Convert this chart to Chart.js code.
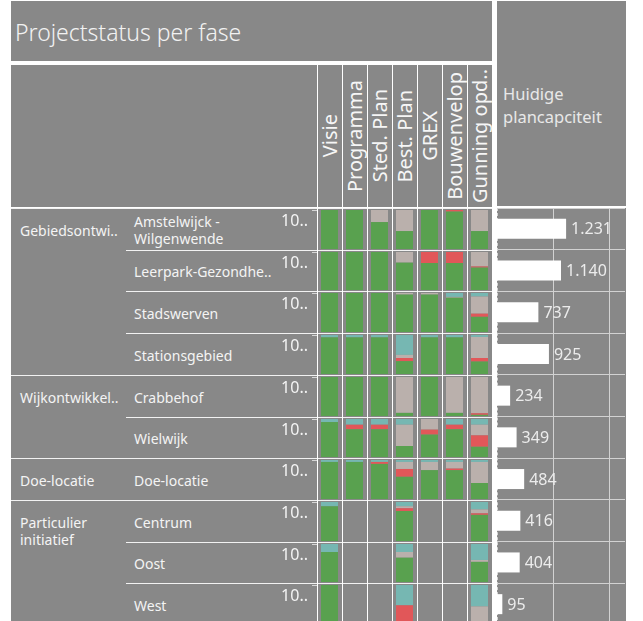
<!DOCTYPE html>
<html>
<head>
<meta charset="utf-8">
<script src="https://cdn.jsdelivr.net/npm/chart.js@4/dist/chart.umd.min.js"></script>
<style>
  body { margin: 0; width: 643px; height: 621px; overflow: hidden; background: #fff; position: relative;
         font-family: "Noto Sans", sans-serif; color: #f4f4f4; }
  .abs { position: absolute; }
  .panel { position: absolute; background: #888888; }
  .phase { position: absolute; top: 65px; width: 25px; height: 142px; display: flex; align-items: center; justify-content: center; }
  .phase span { writing-mode: vertical-rl; transform: rotate(180deg); font-size: 20px; white-space: nowrap; line-height: 25px; color: #f6f6f6; }
  .lbl { position: absolute; font-size: 14px; line-height: 17px; white-space: pre; }
  canvas { position: absolute; }
</style>
</head>
<body>
<div class="panel" style="left:11px;top:1px;width:481px;height:60px;"></div>
<div class="abs" style="left:15px;top:0px;height:60px;line-height:64px;font-size:23px;font-weight:300;color:#f2f2f2;">Projectstatus per fase</div>
<div class="panel" style="left:11px;top:65px;width:481px;height:560px;"></div>
<div class="panel" style="left:497px;top:1px;width:129px;height:205px;"></div>
<div class="abs" style="left:503px;top:82px;font-size:16.5px;line-height:23px;color:#e8e8e8;">Huidige<br>plancapciteit</div>
<div class="panel" style="left:497px;top:208px;width:129px;height:417px;"></div>
<div class="abs" style="left:497px;top:208px;width:0;height:417px;border-left:1px dashed #d8d8d8;"></div>

<script>
// --- Data ---
const phases = ["Visie", "Programma", "Sted. Plan", "Best. Plan", "GREX", "Bouwenvelop", "Gunning opd.."];
const groupNames = ["Gebiedsontwi..", "Wijkontwikkel..", "Doe-locatie", "Particulier\ninitiatief"];
const groupSizes = [4, 2, 1, 3];
const projects = ["Amstelwijck -\nWilgenwende", "Leerpark-Gezondhe..", "Stadswerven", "Stationsgebied",
  "Crabbehof", "Wielwijk", "Doe-locatie", "Centrum", "Oost", "West"];

// share (%) per project (rows) and phase (columns); null = no bar
const pctGreen = [
  [100, 100, 69, 46, 100, 96, 46],
  [100, 100, 100, 72, 71, 71, 59],
  [100, 100, 100, 96, 96, 88, 39],
  [94, 94, 94, 33, 94, 94, 32],
  [100, 100, 100, 8, 100, 8, 3],
  [92, 73, 73, 29, 59, 73, 27],
  [95, 95, 90, 57, 74, 74, 41],
  [89, null, null, 77, null, null, 67],
  [79, null, null, 64, null, null, 53],
  [100, null, null, 0, null, null, 0],
];
const pctRed = [
  [0, 0, 0, 0, 0, 4, 0],
  [0, 0, 0, 0, 29, 29, 3],
  [0, 0, 0, 0, 0, 0, 8],
  [0, 0, 0, 8, 0, 0, 9],
  [0, 0, 0, 0, 0, 0, 4],
  [0, 12, 12, 0, 13, 12, 30],
  [0, 0, 5, 20, 0, 4, 0],
  [0, null, null, 7, null, null, 4],
  [0, null, null, 0, null, null, 0],
  [0, null, null, 48, null, null, 0],
];
const pctBeige = [
  [0, 0, 31, 54, 0, 0, 54],
  [0, 0, 0, 28, 0, 0, 38],
  [0, 0, 0, 4, 4, 2, 44],
  [0, 0, 0, 8, 0, 0, 54],
  [0, 0, 0, 92, 0, 92, 93],
  [0, 0, 0, 56, 28, 0, 28],
  [0, 0, 0, 18, 21, 17, 54],
  [0, null, null, 5, null, null, 10],
  [0, null, null, 15, null, null, 5],
  [0, null, null, 0, null, null, 45],
];
const pctTeal = [
  [0, 0, 0, 0, 0, 0, 0],
  [0, 0, 0, 0, 0, 0, 0],
  [0, 0, 0, 0, 0, 10, 9],
  [6, 6, 6, 51, 6, 6, 5],
  [0, 0, 0, 0, 0, 0, 0],
  [8, 15, 15, 15, 0, 15, 15],
  [5, 5, 5, 5, 5, 5, 5],
  [11, null, null, 11, null, null, 19],
  [21, null, null, 21, null, null, 42],
  [0, null, null, 52, null, null, 55],
];
const capacity = [1231, 1140, 737, 925, 234, 349, 484, 416, 404, 95];
const capacityGrid = [1000, 2000];

// --- Styling ---
const FONT = '"Noto Sans", sans-serif';
Chart.defaults.font.family = FONT;
const statusSeries = [
  { data: pctGreen, color: "#59a14f" },
  { data: pctRed, color: "#e15759" },
  { data: pctBeige, color: "#bab0ac" },
  { data: pctTeal, color: "#76b7b2" },
];
const rowTop = (i) => Math.round(208 + 41.7 * i);

const addDiv = (css, text) => {
  const d = document.createElement("div");
  d.style.cssText = css;
  if (text !== undefined) d.textContent = text;
  document.body.appendChild(d);
  return d;
};

// --- Grid lines of the table ---
addDiv("position:absolute;left:11px;top:207px;width:481px;height:1px;background:#fff");
let groupStarts = [];
groupSizes.reduce((start, n) => { groupStarts.push(start); return start + n; }, 0);
projects.forEach((_, i) => {
  const x = groupStarts.includes(i) ? 11 : 126;
  addDiv(`position:absolute;left:${x}px;top:${rowTop(i)}px;width:${492 - x}px;height:1px;background:#f2f2f2`);
});
phases.forEach((_, k) => {
  addDiv(`position:absolute;left:${317 + 25 * k}px;top:65px;width:1px;height:560px;background:#fff`);
});

// --- Column headers ---
phases.forEach((p, k) => {
  const d = addDiv(`left:${317 + 25 * k}px`);
  d.className = "phase";
  const s = document.createElement("span");
  s.textContent = p;
  d.appendChild(s);
});

// --- Row labels ---
groupNames.forEach((g, j) => {
  const r = groupStarts[j];
  const h = rowTop(r + 1) - rowTop(r);
  addDiv(`left:20px;top:${rowTop(r) + (h - 17) / 2 + 1}px`, g).className = "lbl";
});
projects.forEach((p, r) => {
  const lines = p.split("\n").length;
  const h = rowTop(r + 1) - rowTop(r);
  addDiv(`left:134px;top:${rowTop(r) + (h - 17 * lines) / 2 + 1}px`, p).className = "lbl";
});

// --- Status matrix: one small stacked chart per project ---
projects.forEach((_, r) => {
  const top = rowTop(r);
  const h = rowTop(r + 1) - top;
  const canvas = document.createElement("canvas");
  canvas.width = 222;
  canvas.height = h;
  canvas.style.left = "270px";
  canvas.style.top = top + "px";
  document.body.appendChild(canvas);

  new Chart(canvas, {
    type: "bar",
    data: {
      labels: phases,
      datasets: statusSeries.map((s) => ({
        data: s.data[r],
        backgroundColor: s.color,
        borderWidth: 0,
        barPercentage: 0.68,
        categoryPercentage: 1,
      })),
    },
    options: {
      responsive: false,
      animation: false,
      events: [],
      layout: { padding: { top: 2, bottom: 1, left: 0, right: 0 } },
      plugins: { legend: { display: false }, tooltip: { enabled: false } },
      scales: {
        x: { stacked: true, display: false },
        y: {
          stacked: true,
          min: 0,
          max: 100,
          afterBuildTicks: (scale) => { scale.ticks = [{ value: 100 }]; },
          afterFit: (scale) => { scale.width = 47; scale.paddingTop = 0; scale.paddingBottom = 0; },
          ticks: { callback: () => "10..", color: "#f4f4f4", font: { size: 16 }, padding: 4, labelOffset: 11 },
          grid: { drawOnChartArea: false, tickLength: 5, color: "#d6d6d6" },
          border: { display: false },
        },
      },
    },
  });
});

// --- Huidige plancapaciteit bars ---
const fmtNL = (v) => String(v).replace(/\B(?=(\d{3})+(?!\d))/g, ".");
const valueLabels = {
  id: "valueLabels",
  afterDatasetsDraw(chart) {
    const ctx = chart.ctx;
    const meta = chart.getDatasetMeta(0);
    ctx.save();
    ctx.font = "16px " + FONT;
    ctx.fillStyle = "#ececec";
    ctx.textBaseline = "middle";
    meta.data.forEach((bar, i) => ctx.fillText(fmtNL(capacity[i]), bar.x + 5, bar.y + 1));
    ctx.restore();
  },
};

const capCanvas = document.createElement("canvas");
capCanvas.width = 129;
capCanvas.height = rowTop(10) - rowTop(0);
capCanvas.style.left = "497px";
capCanvas.style.top = rowTop(0) + "px";
document.body.appendChild(capCanvas);

new Chart(capCanvas, {
  type: "bar",
  data: {
    labels: projects,
    datasets: [{ data: capacity, backgroundColor: "#ffffff", borderWidth: 0, barPercentage: 0.48, categoryPercentage: 1 }],
  },
  options: {
    indexAxis: "y",
    responsive: false,
    animation: false,
    events: [],
    layout: { padding: { top: 0, bottom: 0, left: 0, right: 1 } },
    plugins: { legend: { display: false }, tooltip: { enabled: false } },
    scales: {
      x: {
        min: 0,
        max: 2280,
        afterBuildTicks: (scale) => { scale.ticks = capacityGrid.map((v) => ({ value: v })); },
        afterFit: (scale) => { scale.height = 0; },
        ticks: { display: false },
        grid: { drawTicks: false, color: "#d2d2d2" },
        border: { display: false },
      },
      y: {
        ticks: { display: false },
        grid: { offset: true, drawTicks: false, color: "#d2d2d2" },
        border: { display: false },
        afterFit: (scale) => { scale.width = 0; },
      },
    },
  },
  plugins: [valueLabels],
});
</script>
</body>
</html>
